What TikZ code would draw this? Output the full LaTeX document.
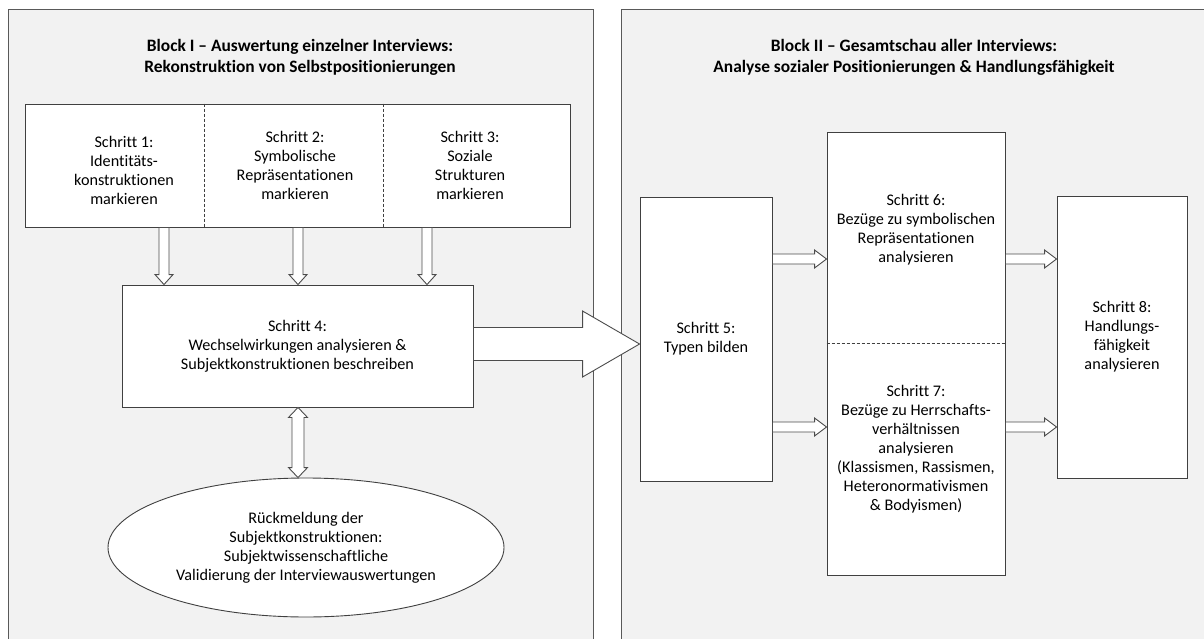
\documentclass[tikz,border=0pt]{standalone}
\usepackage{fontspec}
\setmainfont{Carlito}[Ligatures=CommonOff]
\usetikzlibrary{calc,shapes.geometric}
\tikzset{
  panel/.style={draw=black!65,fill=black!5,line width=1pt},
  box/.style={draw=black!75,fill=white,line width=0.9pt,align=center,inner sep=0pt},
  txt/.style={align=center,inner sep=0pt},
  title/.style={align=center,inner sep=0pt,font=\fontsize{17.4}{21}\selectfont\bfseries},
  divider/.style={draw=black!75,line width=0.9pt,dash pattern=on 3pt off 2pt},
  blk/.style={draw=black!70,fill=white,line width=0.9pt},
  hollow/.style n args={3}{to path={
    let \p1=($(\tikztotarget)-(\tikztostart)$), \n1={veclen(\x1,\y1)}, \n2={atan2(\y1,\x1)} in
    [shift={(\tikztostart)},rotate=\n2]
    (0pt,#1) -- (\n1-#3,#1) -- (\n1-#3,#2) -- (\n1,0pt) -- (\n1-#3,-#2)
    -- (\n1-#3,-#1) -- (0pt,-#1) -- cycle}},
  hollowboth/.style n args={3}{to path={
    let \p1=($(\tikztotarget)-(\tikztostart)$), \n1={veclen(\x1,\y1)}, \n2={atan2(\y1,\x1)} in
    [shift={(\tikztostart)},rotate=\n2]
    (0pt,0pt) -- (#3,#2) -- (#3,#1) -- (\n1-#3,#1) -- (\n1-#3,#2) -- (\n1,0pt)
    -- (\n1-#3,-#2) -- (\n1-#3,-#1) -- (#3,-#1) -- (#3,-#2) -- cycle}}
}
\begin{document}
\begin{tikzpicture}[x=1pt,y=-1pt,font=\fontsize{16.2}{19}\selectfont]
\useasboundingbox (0,0) rectangle (1204,639);
\clip (0,0) rectangle (1204,639);
\draw[panel] (8,10) rectangle (593,700);
\draw[panel] (621,10) rectangle (1207,700);
\node[title] (title1) at (300,57.5) {Block I – Auswertung einzelner Interviews:\\Rekonstruktion von Selbstpositionierungen};
\node[title] (title2) at (914,57.5) {Block II – Gesamtschau aller Interviews:\\Analyse sozialer Positionierungen \& Handlungsfähigkeit};
\node[box,minimum width=545,minimum height=123] (top) at (297.5,165.5) {};
\draw[divider] (top.north -| 204,0) -- (top.south -| 204,0);
\draw[divider] (top.north -| 383,0) -- (top.south -| 383,0);
\node[txt] (s1) at (124,170.5) {Schritt 1:\\Identitäts-\\konstruktionen\\markieren};
\node[txt] (s2) at (295,165.5) {Schritt 2:\\Symbolische\\Repräsentationen\\markieren};
\node[txt] (s3) at (470,165.5) {Schritt 3:\\Soziale\\Strukturen\\markieren};
\node[box,minimum width=351,minimum height=122] (s4) at (297.5,346) {Schritt 4:\\Wechselwirkungen analysieren \&\\Subjektkonstruktionen beschreiben};
\node[box,ellipse,minimum width=396,minimum height=139] (fb) at (306,547.5) {Rückmeldung der\\Subjektkonstruktionen:\\Subjektwissenschaftliche\\Validierung der Interviewauswertungen};
\node[box,minimum width=132,minimum height=284] (s5) at (706,339) {Schritt 5:\\Typen bilden};
\node[box,minimum width=178,minimum height=443] (s67) at (916,353.5) {};
\draw[divider] (s67.west |- 0,343) -- (s67.east |- 0,343);
\node[txt] (s6) at (916,230) {Schritt 6:\\Bezüge zu symbolischen\\Repräsentationen\\analysieren};
\node[txt] (s7) at (916,449) {Schritt 7:\\Bezüge zu Herrschafts-\\verhältnissen\\analysieren\\(Klassismen, Rassismen,\\Heteronormativismen\\\& Bodyismen)};
\node[box,minimum width=130,minimum height=282] (s8) at (1122,337) {Schritt 8:\\Handlungs-\\fähigkeit\\analysieren};
\draw[blk] (top.south -| 164,0) to[hollow={5pt}{9pt}{10pt}] (s4.north -| 164,0);
\draw[blk] (top.south -| 298,0) to[hollow={5pt}{9pt}{10pt}] (s4.north -| 298,0);
\draw[blk] (top.south -| 427,0) to[hollow={5pt}{9pt}{10pt}] (s4.north -| 427,0);
\draw[blk] (s4.south -| 298,0) to[hollowboth={6pt}{9.5pt}{10pt}] (fb.north -| 298,0);
\draw[blk] (s4.east |- 0,344) to[hollow={16.5pt}{33pt}{57pt}] (s5.west |- 0,344);
\draw[blk] (s5.east |- 0,259) to[hollow={5pt}{9pt}{12pt}] (s67.west |- 0,259);
\draw[blk] (s5.east |- 0,427) to[hollow={5pt}{9pt}{12pt}] (s67.west |- 0,427);
\draw[blk] (s67.east |- 0,259) to[hollow={5pt}{9pt}{12pt}] (s8.west |- 0,259);
\draw[blk] (s67.east |- 0,427) to[hollow={5pt}{9pt}{12pt}] (s8.west |- 0,427);
\end{tikzpicture}
\end{document}
